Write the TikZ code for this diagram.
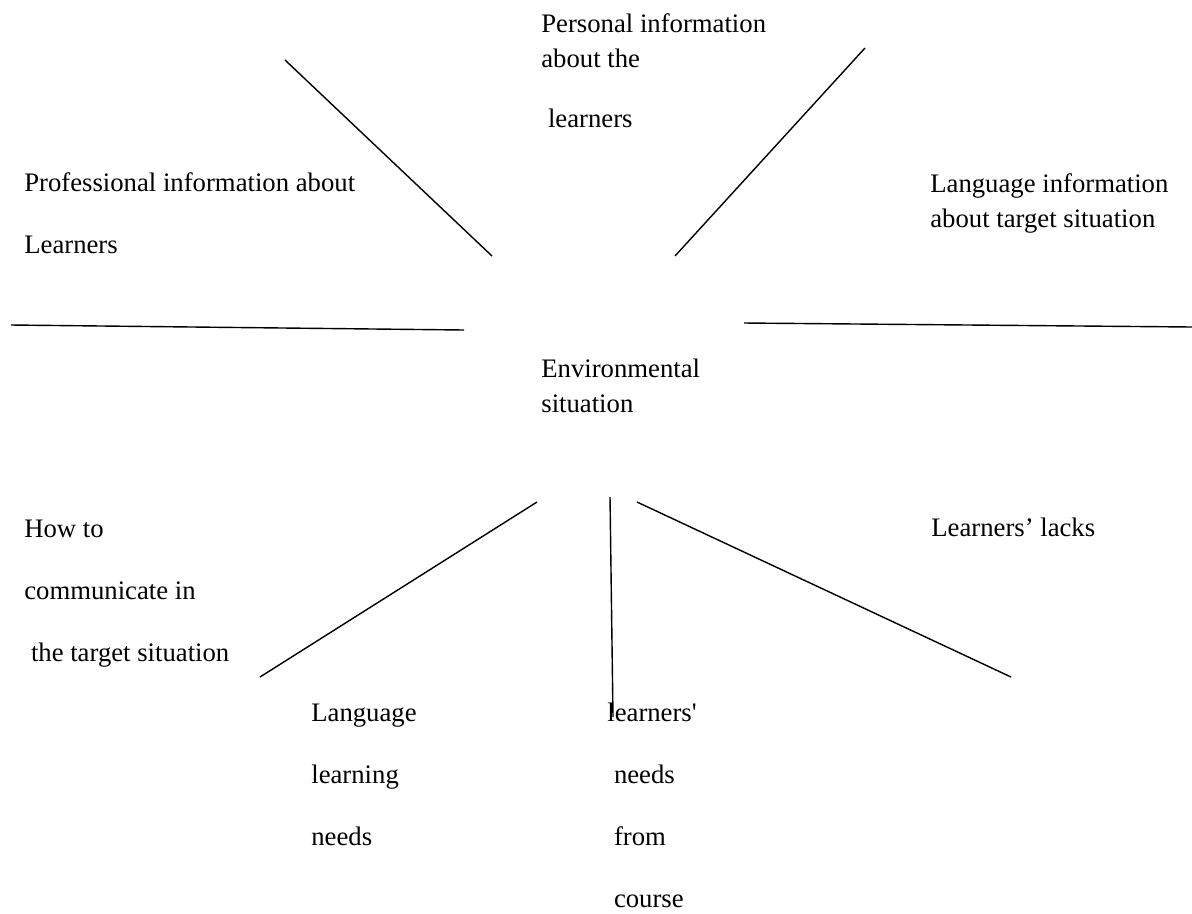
\documentclass[tikz,border=0pt]{standalone}
\usepackage{fontspec}
\setmainfont{Liberation Serif}

\begin{document}
\begin{tikzpicture}[x=0.02cm,y=-0.02cm,lbl/.style={anchor=base west,inner sep=0pt,align=left,font=\rmfamily\fontsize{15.2}{19.8}\selectfont},wide/.style={lbl,font=\rmfamily\fontsize{15.2}{35.2}\selectfont},spoke/.style={line width=0.8pt}]
\useasboundingbox (0,0) rectangle (1192,913);
\node[lbl] (pers) at (541,127) {Personal information\\about the\\[14pt]\ learners};
\node[wide] (prof) at (24,253) {Professional information about\\Learners};
\node[lbl] (langinfo) at (930,227) {Language information\\about target situation};
\node[lbl] (env) at (541,412) {Environmental\\situation};
\node[wide] (howto) at (24,661) {How to\\communicate in\\\ the target situation};
\node[lbl] (lacks) at (931,536) {Learners’ lacks};
\node[wide] (lln) at (311,845) {Language\\learning\\needs};
\node[wide] (course) at (607,907) {learners\textquotesingle\\\ needs\\\ from\\\ course};
\coordinate (s1a) at (285,60); \coordinate (s1b) at (492,256);
\coordinate (s2a) at (865,48); \coordinate (s2b) at (675,256);
\coordinate (s3a) at (11,325); \coordinate (s3b) at (464,330);
\coordinate (s4a) at (744,323); \coordinate (s4b) at (1192,327);
\coordinate (s5a) at (537,502); \coordinate (s5b) at (260,677);
\coordinate (s6a) at (610,497); \coordinate (s6b) at (613,717);
\coordinate (s7a) at (637,502); \coordinate (s7b) at (1011,677);
\draw[spoke] (s1a) -- (s1b); \draw[spoke] (s2a) -- (s2b);
\draw[spoke] (s3a) -- (s3b); \draw[spoke] (s4a) -- (s4b);
\draw[spoke] (s5a) -- (s5b); \draw[spoke] (s6a) -- (s6b); \draw[spoke] (s7a) -- (s7b);
\end{tikzpicture}
\end{document}
